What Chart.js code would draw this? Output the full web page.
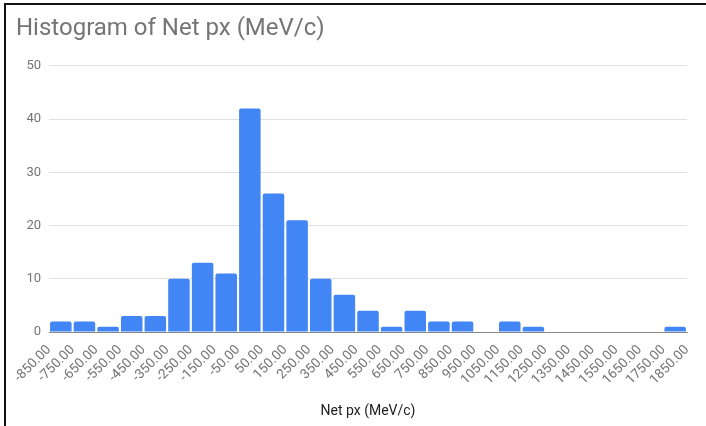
<!DOCTYPE html>
<html>
<head>
<meta charset="utf-8">
<script src="https://cdn.jsdelivr.net/npm/chart.js@4"></script>
<style>
  html, body { margin: 0; padding: 0; background: #fff; }
  #wrap { position: relative; width: 706px; height: 426px; overflow: hidden; }
  #frame { position: absolute; left: 4px; top: 3px; right: -4px; bottom: -4px;
           border-left: 2px solid #111; border-top: 2px solid #111; pointer-events: none; }
  canvas { position: absolute; left: 0; top: 0; }
</style>
</head>
<body>
<div id="wrap">
  <canvas id="histChart" width="706" height="426"></canvas>
  <div id="frame"></div>
</div>
<script>
// bin edges (also the x tick labels) and counts per bin
const binEdges = [-850, -750, -650, -550, -450, -350, -250, -150, -50, 50, 150, 250, 350, 450,
  550, 650, 750, 850, 950, 1050, 1150, 1250, 1350, 1450, 1550, 1650, 1750, 1850];
const counts = [2, 2, 1, 3, 3, 10, 13, 11, 42, 26, 21, 10, 7, 4,
  1, 4, 2, 2, 0, 2, 1, 0, 0, 0, 0, 0, 1];
const yTicks = [0, 10, 20, 30, 40, 50];

const points = counts.map((c, i) => ({ x: (binEdges[i] + binEdges[i + 1]) / 2, y: c }));

Chart.defaults.font.family = 'Roboto, Arial, sans-serif';

const ctx = document.getElementById('histChart').getContext('2d');
const histChart = new Chart(ctx, {
  type: 'bar',
  data: {
    datasets: [{
      label: 'Net px (MeV/c)',
      data: points,
      backgroundColor: '#4285f4',
      borderWidth: 0,
      borderRadius: { topLeft: 2, topRight: 2 },
      borderSkipped: 'bottom',
      barPercentage: 0.91,
      categoryPercentage: 1
    }]
  },
  options: {
    responsive: false,
    animation: false,
    layout: { padding: { left: 16, top: 12, right: 19, bottom: 6 } },
    plugins: {
      legend: { display: false },
      tooltip: { enabled: false },
      title: {
        display: true,
        text: 'Histogram of Net px (MeV/c)',
        align: 'start',
        color: '#757575',
        font: { size: 24, weight: 'normal' },
        padding: { top: 3, bottom: 22 }
      }
    },
    scales: {
      x: {
        type: 'linear',
        offset: false,
        min: binEdges[0],
        max: binEdges[binEdges.length - 1],
        afterBuildTicks: s => { s.ticks = binEdges.map(v => ({ value: v })); },
        afterFit: s => { s.paddingLeft = 0; s.paddingRight = 0; },
        ticks: {
          autoSkip: false,
          minRotation: 45,
          maxRotation: 45,
          color: '#757575',
          font: { size: 13.5 },
          padding: 2,
          callback: v => Number(v).toFixed(2)
        },
        grid: { display: false, offset: false },
        border: { display: true, color: '#888', width: 1 },
        title: {
          display: true,
          text: 'Net px (MeV/c)',
          color: '#222',
          font: { size: 14 },
          padding: { top: 13, bottom: 0 }
        }
      },
      y: {
        min: 0,
        max: 50,
        afterBuildTicks: s => { s.ticks = yTicks.map(v => ({ value: v })); },
        afterFit: s => { s.width = 33; },
        ticks: {
          color: '#757575',
          font: { size: 13 },
          padding: 8
        },
        grid: { color: '#e0e0e0', lineWidth: 1, drawTicks: false },
        border: { display: false }
      }
    }
  }
});
</script>
</body>
</html>
